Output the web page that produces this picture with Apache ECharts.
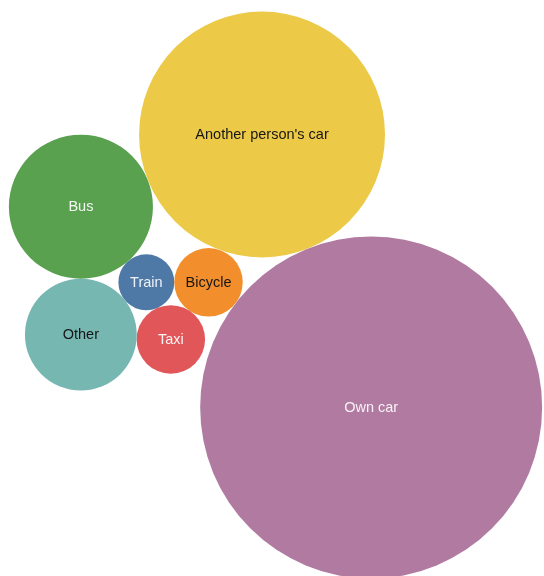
<!DOCTYPE html>
<html>
<head>
<meta charset="utf-8">
<script src="https://cdn.jsdelivr.net/npm/echarts@6/dist/echarts.min.js"></script>
<style>
  html, body { margin: 0; padding: 0; background: #ffffff; }
  #chart { width: 544px; height: 576px; }
</style>
</head>
<body>
<div id="chart"></div>
<script>
// ---- Data (percent of respondents) ----
const categories = ['Own car', "Another person's car", 'Bus', 'Other', 'Bicycle', 'Taxi', 'Train'];
const values = [52.4, 27.1, 9.3, 5.6, 2.1, 2.1, 1.4];

// ---- Styles ----
const palette = {
  'Own car': '#b07aa1',
  "Another person's car": '#edc948',
  'Bus': '#59a14f',
  'Other': '#76b7b2',
  'Taxi': '#e15759',
  'Bicycle': '#f28e2b',
  'Train': '#4e79a7'
};
const labelInk = {
  'Own car': '#f8f2f7',
  "Another person's car": '#161616',
  'Bus': '#f4f8f2',
  'Other': '#161616',
  'Taxi': '#fbf2f2',
  'Bicycle': '#161616',
  'Train': '#eef2f8'
};
const PX_PER_UNIT = 23.62;        // pixels per unit of sqrt(value)
const ORIGIN_PX = [275.5, 295.0]; // where the centre of the packed cluster is drawn
const W = 544, H = 576;

// ---- Front-chain circle packing (siblings sorted ascending by value) ----
function packSiblings(rs) {
  const nodes = rs.map(r => ({ r: r, x: 0, y: 0 }));
  nodes.forEach(c => { c.next = c; c.prev = c; });
  let xMin = Infinity, xMax = -Infinity, yMin = Infinity, yMax = -Infinity;
  const bound = c => {
    xMin = Math.min(c.x - c.r, xMin); xMax = Math.max(c.x + c.r, xMax);
    yMin = Math.min(c.y - c.r, yMin); yMax = Math.max(c.y + c.r, yMax);
  };
  const insert = (a, b) => { const c = a.next; a.next = b; b.prev = a; b.next = c; c.prev = b; };
  const splice = (a, b) => { a.next = b; b.prev = a; };
  const intersects = (a, b) => {
    const dx = b.x - a.x, dy = b.y - a.y, dr = a.r + b.r;
    return 0.999 * dr * dr > dx * dx + dy * dy;
  };
  const place = (a, b, c) => {
    let db = a.r + c.r;
    const dx = b.x - a.x, dy = b.y - a.y;
    if (db && (dx || dy)) {
      let da = b.r + c.r;
      const dc = dx * dx + dy * dy;
      da *= da; db *= db;
      const x = 0.5 + (db - da) / (2 * dc);
      const y = Math.sqrt(Math.max(0, 2 * da * (db + dc) - (db - dc) * (db - dc) - da * da)) / (2 * dc);
      c.x = a.x + x * dx + y * dy;
      c.y = a.y + x * dy - y * dx;
    } else {
      c.x = a.x + db; c.y = a.y;
    }
  };
  const n = nodes.length;
  let a = nodes[0], b, c;
  a.x = -a.r; a.y = 0; bound(a);
  if (n > 1) {
    b = nodes[1]; b.x = b.r; b.y = 0; bound(b);
    if (n > 2) {
      c = nodes[2]; place(a, b, c); bound(c);
      insert(a, c); a.prev = c; insert(c, b); b = a.next;
      for (let i = 3; i < n; i++) {
        c = nodes[i];
        place(a, b, c);
        let isect = 0, s1 = 1, s2 = 1, j, k;
        for (j = b.next; j !== b; j = j.next, s1++) {
          if (intersects(j, c)) { isect = 1; break; }
        }
        if (isect === 1) {
          for (k = a.prev; k !== j.prev; k = k.prev, s2++) {
            if (intersects(k, c)) break;
          }
        }
        if (isect) {
          if (s1 < s2 || (s1 === s2 && b.r < a.r)) { b = j; splice(a, b); }
          else { a = k; splice(a, b); }
          i--;
        } else {
          insert(a, c); b = c; bound(c);
        }
      }
    }
  }
  const cx = (xMin + xMax) / 2, cy = (yMin + yMax) / 2;
  nodes.forEach(nd => { nd.x -= cx; nd.y -= cy; });
  return nodes;
}

// ascending by value; ties keep the order of the arrays above
const order = categories.map((_, i) => i).sort((p, q) => (values[p] - values[q]) || (p - q));
const packed = packSiblings(order.map(i => Math.sqrt(values[i])));
const seriesData = order.map((idx, k) => ({
  name: categories[idx],
  value: [packed[k].x, packed[k].y, packed[k].r, values[idx]]
}));

const chart = echarts.init(document.getElementById('chart'), null, { renderer: 'canvas' });
chart.setOption({
  animation: false,
  backgroundColor: '#ffffff',
  grid: { left: 0, right: 0, top: 0, bottom: 0, containLabel: false },
  xAxis: {
    type: 'value', show: false,
    min: -ORIGIN_PX[0] / PX_PER_UNIT, max: (W - ORIGIN_PX[0]) / PX_PER_UNIT
  },
  yAxis: {
    type: 'value', show: false,
    min: -(H - ORIGIN_PX[1]) / PX_PER_UNIT, max: ORIGIN_PX[1] / PX_PER_UNIT
  },
  series: [{
    type: 'custom',
    coordinateSystem: 'cartesian2d',
    clip: false,
    data: seriesData,
    renderItem: function (params, api) {
      const item = seriesData[params.dataIndex];
      const p = api.coord([api.value(0), api.value(1)]);
      const rr = api.size([api.value(2), api.value(2)]);
      return {
        type: 'group',
        children: [
          {
            type: 'circle',
            shape: { cx: p[0], cy: p[1], r: rr[0] },
            style: { fill: palette[item.name] }
          },
          {
            type: 'text',
            style: {
              text: item.name,
              x: p[0], y: p[1] + 0.5,
              align: 'center', verticalAlign: 'middle',
              fill: labelInk[item.name],
              fontSize: 14.5,
              fontFamily: '"Liberation Sans", Arial, sans-serif'
            }
          }
        ]
      };
    }
  }]
});
</script>
</body>
</html>
